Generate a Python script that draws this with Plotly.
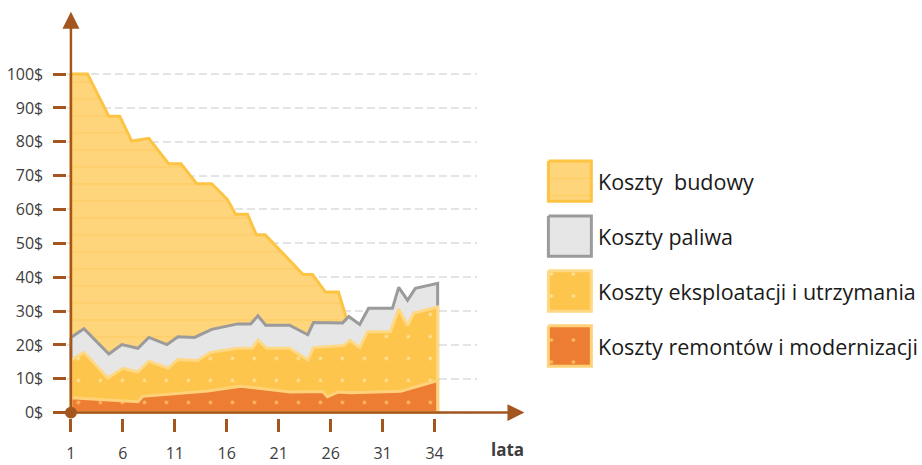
import plotly.graph_objects as go

# ---- data -------------------------------------------------------------
# time axis: positions of the tick marks and the labels printed under them
TICK_POS = [1, 6, 11, 16, 21, 26, 31, 36]
TICK_LABELS = ["1", "6", "11", "16", "21", "26", "31", "34"]
Y_TICKS = list(range(0, 101, 10))

# cumulative cost levels ($) along the time axis
BUDOWA_X = [1, 2.6, 4.65, 5.7, 6.85, 8.5, 10.4, 11.6, 13.1, 14.55, 16.05, 16.85,
            18.0, 18.85, 19.7, 23.35, 24.25, 25.5, 26.75, 27.7]
BUDOWA_Y = [100, 100, 87.5, 87.5, 80.2, 81, 73.5, 73.5, 67.6, 67.6, 63, 58.6,
            58.6, 52.5, 52.5, 40.8, 40.8, 35.6, 35.6, 26]

PALIWO_X = [1, 2.25, 4.65, 5.9, 7.45, 8.5, 10.25, 11.3, 12.9, 14.55, 17.05, 18.3,
            19.0, 19.75, 22.05, 23.8, 24.35, 27.15, 27.75, 28.8, 29.65, 31.95,
            32.55, 33.4, 34.15, 36.3]
PALIWO_Y = [22.2, 24.8, 17.3, 20.1, 19.0, 22.2, 20.1, 22.4, 22.2, 24.6, 26.2, 26.2,
            28.6, 25.8, 25.8, 23.0, 26.6, 26.5, 28.4, 26.0, 30.8, 30.8,
            37.0, 33.2, 36.7, 38.2]

EKSPL_X = [1, 2.25, 4.55, 6.0, 7.45, 8.5, 10.35, 11.3, 13.2, 14.45, 17.05, 18.5,
           19.0, 19.85, 22.05, 23.8, 24.35, 27.25, 27.85, 28.8, 29.55, 31.75,
           32.55, 33.4, 34.0, 36.3]
EKSPL_Y = [15.5, 17.8, 10.2, 13.1, 12.0, 15.2, 13.1, 15.7, 15.4, 17.8, 19.0, 19.1,
           21.4, 19.0, 19.0, 15.5, 19.2, 19.8, 21.3, 19.2, 23.9, 23.9,
           30.6, 25.7, 29.4, 31.2]

REMONT_X = [1, 7.45, 7.9, 14.15, 17.35, 22.15, 25.25, 25.7, 26.75, 27.9, 32.75, 36.3]
REMONT_Y = [4.4, 3.2, 4.8, 6.4, 7.8, 6.1, 6.2, 4.7, 6.1, 5.9, 6.3, 9.5]

SERIES_NAMES = ["Koszty\u00a0 budowy", "Koszty paliwa",
                "Koszty eksploatacji i utrzymania", "Koszty remontów i modernizacji"]

# ---- styling ----------------------------------------------------------
W, H = 922, 465
BROWN = "#A3561F"
TEXT = "#3d3d3d"
FONT = "Open Sans"

STYLES = [
    dict(fill="#FFD57C", line="#FDC443", width=3,
         pattern=dict(shape="-", size=17, solidity=0.08, fgcolor="#FDC443",
                      fgopacity=0.45, bgcolor="#FFD57C", fillmode="replace")),
    dict(fill="#E6E6E6", line="#9B9B9B", width=3, pattern=None),
    dict(fill="#FDC54B", line="#FFD884", width=3,
         pattern=dict(shape=".", size=22, solidity=0.02, fgcolor="#FFE29C",
                      bgcolor="#FDC54B", fillmode="replace")),
    dict(fill="#EE7D34", line="#FFD27A", width=3,
         pattern=dict(shape=".", size=22, solidity=0.02, fgcolor="#FFC25E",
                      bgcolor="#EE7D34", fillmode="replace")),
]

# plot box in pixels, and where x=1 / y=0 sit inside it
PL, PR, PT, PB = 66.5, 477, 40, 423
X0_PX, Y0_PX = 70, 418
PX_PER_X, PX_PER_Y = 10.4, 3.43
x_range = [1 - (X0_PX - PL) / PX_PER_X, 1 + (PR - X0_PX) / PX_PER_X]
y_range = [-(PB - Y0_PX) / PX_PER_Y, (Y0_PX - PT) / PX_PER_Y]


def px(x):
    return x / W


def py(y):
    return 1 - y / H


fig = go.Figure()

series = [(BUDOWA_X, BUDOWA_Y), (PALIWO_X, PALIWO_Y),
          (EKSPL_X, EKSPL_Y), (REMONT_X, REMONT_Y)]
for (xs, ys), st, name in zip(series, STYLES, SERIES_NAMES):
    poly_x = list(xs) + [xs[-1], xs[0], xs[0]]
    poly_y = list(ys) + [0, 0, ys[0]]
    kw = dict(fillpattern=st["pattern"]) if st["pattern"] else {}
    fig.add_trace(go.Scatter(
        x=poly_x, y=poly_y, mode="lines", fill="toself", name=name,
        fillcolor=st["fill"], line=dict(color=st["line"], width=st["width"]),
        hoverinfo="skip", showlegend=False, xaxis="x", yaxis="y", **kw))

# ---- legend swatches (separate small subplot in pixel units) ----------
LG_L, LG_R, LG_T, LG_B = 540, 600, 155, 380
BOX_X0, BOX_X1, BOX_TOP, BOX_H, BOX_STEP = 548, 591, 163, 41, 55.7
for i, (st, name) in enumerate(zip(STYLES, SERIES_NAMES)):
    t = BOX_TOP + i * BOX_STEP
    b = t + BOX_H
    kw = dict(fillpattern=st["pattern"]) if st["pattern"] else {}
    fig.add_trace(go.Scatter(
        x=[BOX_X0, BOX_X1, BOX_X1, BOX_X0, BOX_X0], y=[t, t, b, b, t],
        mode="lines", fill="toself", fillcolor=st["fill"],
        line=dict(color=st["line"], width=3), hoverinfo="skip",
        showlegend=False, xaxis="x2", yaxis="y2", **kw))
    fig.add_annotation(x=px(596), y=py(t + BOX_H / 2), xref="paper", yref="paper",
                       text=name, showarrow=False, xanchor="left", yanchor="middle",
                       font=dict(family=FONT, size=21.5, color="#1a1a1a"))

# ---- axes drawn as arrows ----------------------------------------------
shapes = [
    # vertical axis
    dict(type="line", xref="paper", yref="paper", x0=px(X0_PX), x1=px(X0_PX),
         y0=py(Y0_PX), y1=py(26), line=dict(color=BROWN, width=2.5), layer="above"),
    dict(type="path", xref="paper", yref="paper", layer="above",
         path=f"M {px(61.5)} {py(29)} L {px(78.5)} {py(29)} L {px(70)} {py(12)} Z",
         fillcolor=BROWN, line=dict(width=0)),
    # horizontal axis
    dict(type="line", xref="paper", yref="paper", x0=px(X0_PX), x1=px(509),
         y0=py(Y0_PX), y1=py(Y0_PX), line=dict(color=BROWN, width=2.5), layer="above"),
    dict(type="path", xref="paper", yref="paper", layer="above",
         path=f"M {px(507)} {py(409.5)} L {px(507)} {py(426.5)} L {px(524)} {py(418)} Z",
         fillcolor=BROWN, line=dict(width=0)),
    # origin dot
    dict(type="circle", xref="paper", yref="paper", layer="above",
         x0=px(64), x1=px(76), y0=py(412), y1=py(424),
         fillcolor=BROWN, line=dict(width=0)),
]

fig.add_annotation(x=px(507), y=py(455), xref="paper", yref="paper", text="<b>lata</b>",
                   showarrow=False, xanchor="center", yanchor="middle",
                   font=dict(family=FONT, size=17, color=TEXT))

fig.update_layout(
    width=W, height=H, autosize=False,
    margin=dict(l=0, r=0, t=0, b=0),
    paper_bgcolor="white", plot_bgcolor="white",
    shapes=shapes,
    xaxis=dict(domain=[px(PL), px(PR)], range=x_range, showgrid=False, zeroline=False,
               showline=False, tickmode="array", tickvals=TICK_POS, ticktext=TICK_LABELS,
               ticks="outside", ticklen=13, tickwidth=2.5, tickcolor=BROWN,
               ticklabelstandoff=8,
               tickfont=dict(family=FONT, size=16, color=TEXT), fixedrange=True),
    yaxis=dict(domain=[py(PB), py(PT)], range=y_range, showgrid=True,
               gridcolor="#E4E4E4", griddash="8px,4px", gridwidth=1.5, zeroline=False,
               showline=False, tickmode="array", tickvals=Y_TICKS,
               ticktext=[f"{v}$" for v in Y_TICKS],
               ticks="outside", ticklen=13, tickwidth=2.5, tickcolor=BROWN,
               ticklabelstandoff=7,
               tickfont=dict(family=FONT, size=16, color=TEXT), fixedrange=True),
    xaxis2=dict(domain=[px(LG_L), px(LG_R)], range=[LG_L, LG_R], visible=False,
                anchor="y2", fixedrange=True),
    yaxis2=dict(domain=[py(LG_B), py(LG_T)], range=[LG_B, LG_T], visible=False,
                anchor="x2", fixedrange=True),
)

fig.write_html("out.html")
